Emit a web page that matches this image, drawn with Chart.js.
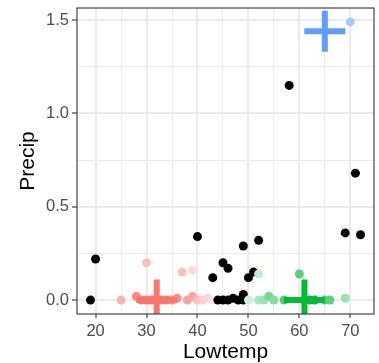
<!DOCTYPE html>
<html>
<head>
<meta charset="utf-8">
<script src="https://cdn.jsdelivr.net/npm/chart.js@4/dist/chart.umd.min.js"></script>
<style>
  html, body { margin: 0; padding: 0; background: #fff; }
</style>
</head>
<body>
<canvas id="chart" width="379" height="363"></canvas>
<script>
// tick values
const xTicks = [20, 25, 30, 35, 40, 45, 50, 55, 60, 65, 70];
const yTicks = [0, 0.25, 0.5, 0.75, 1, 1.25, 1.5];

// black cluster
const blackLow = [19, 20, 40, 43, 45, 46, 49, 50, 51, 52, 58, 69, 71, 72, 44, 45, 46, 47, 48, 49, 49];
const blackPrecip = [0, 0.22, 0.34, 0.12, 0.20, 0.17, 0.29, 0.12, 0.15, 0.32, 1.15, 0.36, 0.68, 0.35, 0, 0, 0, 0.01, 0, 0.03, 0];

// red cluster (weight = membership)
const redLow = [25, 28, 29, 30, 31, 32, 33, 34, 35, 36, 38, 39, 40, 41, 42, 43, 30, 37, 39];
const redPrecip = [0, 0.02, 0, 0, 0, 0, 0, 0, 0, 0.01, 0, 0.02, 0, 0, 0.01, 0, 0.20, 0.15, 0.16];
const redWeight = [0.55, 0.85, 0.95, 1, 1, 1, 1, 0.95, 0.8, 0.8, 0.65, 0.65, 0.45, 0.35, 0.3, 0.2, 0.45, 0.45, 0.25];

// green cluster
const greenLow = [50, 52, 52, 53, 54, 55, 57, 60, 61, 62, 63, 65, 66, 69];
const greenPrecip = [0, 0.14, 0, 0, 0.02, 0, 0, 0.14, 0, 0, 0, 0, 0, 0.01];
const greenWeight = [0.2, 0.25, 0.35, 0.4, 0.55, 0.5, 0.7, 0.65, 1, 1, 1, 0.7, 0.65, 0.4];

// blue cluster
const blueLow = [70];
const bluePrecip = [1.49];
const blueWeight = [0.55];

// cluster centres
const centreNames = ["red", "green", "blue"];
const centreLow = [32, 61, 65];
const centrePrecip = [0, 0, 1.44];

const palette = { red: "#F8766D", green: "#00BA38", blue: "#619CFF" };

function mix(hex, w) {
  const n = parseInt(hex.slice(1), 16);
  const r = (n >> 16) & 255, g = (n >> 8) & 255, b = n & 255;
  const f = c => Math.round(255 + (c - 255) * w);
  return "rgb(" + f(r) + "," + f(g) + "," + f(b) + ")";
}

function pts(xs, ys) {
  return xs.map((x, i) => ({ x: x, y: ys[i] }));
}

// ggplot-style panel border on top of everything
const panelBorder = {
  id: "panelBorder",
  afterDraw(chart) {
    const { ctx, chartArea: a } = chart;
    ctx.save();
    ctx.strokeStyle = "#333333";
    ctx.lineWidth = 1.1;
    ctx.strokeRect(a.left, a.top, a.right - a.left, a.bottom - a.top);
    ctx.restore();
  }
};

function noPad(s) {
  s.paddingLeft = 0;
  s.paddingRight = 0;
  s.paddingTop = 0;
  s.paddingBottom = 0;
}

const isMajorX = v => v % 10 === 0;
const isMajorY = v => Math.abs(v * 2 - Math.round(v * 2)) < 1e-6;
const font = "'Liberation Sans', Arial, sans-serif";

new Chart(document.getElementById("chart"), {
  type: "scatter",
  data: {
    datasets: [
      {
        data: pts(redLow, redPrecip),
        backgroundColor: redWeight.map(w => mix(palette.red, w)),
        pointRadius: 4.5,
        borderWidth: 0,
        order: 4
      },
      {
        data: pts(blackLow, blackPrecip),
        backgroundColor: "#000000",
        pointRadius: 4.5,
        borderWidth: 0,
        order: 3
      },
      {
        data: pts(greenLow, greenPrecip),
        backgroundColor: greenWeight.map(w => mix(palette.green, w)),
        pointRadius: 4.5,
        borderWidth: 0,
        order: 2
      },
      {
        data: pts(blueLow, bluePrecip),
        backgroundColor: blueWeight.map(w => mix(palette.blue, w)),
        pointRadius: 4.5,
        borderWidth: 0,
        order: 1
      },
      {
        data: pts(centreLow, centrePrecip),
        pointStyle: "cross",
        pointRadius: 20.5,
        borderWidth: 6,
        borderColor: centreNames.map(n => palette[n]),
        backgroundColor: centreNames.map(n => palette[n]),
        clip: 0,
        order: 0
      }
    ]
  },
  options: {
    responsive: false,
    animation: false,
    events: [],
    layout: { autoPadding: false, padding: { top: 8, right: 5, left: 0, bottom: 0 } },
    plugins: {
      legend: { display: false },
      tooltip: { enabled: false }
    },
    scales: {
      x: {
        type: "linear",
        min: 16.35,
        max: 74.65,
        afterBuildTicks: s => { s.ticks = xTicks.map(v => ({ value: v })); },
        afterFit: s => { s.height = 49; noPad(s); },
        border: { display: false },
        grid: {
          color: "#EBEBEB",
          lineWidth: c => (isMajorX(c.tick.value) ? 2 : 1),
          tickLength: 4,
          tickWidth: 1.1,
          tickColor: c => (isMajorX(c.tick.value) ? "#333333" : "rgba(0,0,0,0)")
        },
        ticks: {
          autoSkip: false,
          maxRotation: 0,
          padding: 4,
          color: "#4D4D4D",
          font: { family: font, size: 16.5 },
          callback: v => (isMajorX(v) ? String(v) : "")
        },
        title: {
          display: true,
          text: "Lowtemp",
          color: "#000000",
          padding: { top: 0, bottom: 0 },
          font: { family: font, size: 21, lineHeight: 1.05 }
        }
      },
      y: {
        type: "linear",
        min: -0.0745,
        max: 1.5645,
        afterBuildTicks: s => { s.ticks = yTicks.map(v => ({ value: v })); },
        afterFit: s => { s.width = 77; noPad(s); },
        border: { display: false },
        grid: {
          color: "#EBEBEB",
          lineWidth: c => (isMajorY(c.tick.value) ? 2 : 1),
          tickLength: 5,
          tickWidth: 1.1,
          tickColor: c => (isMajorY(c.tick.value) ? "#333333" : "rgba(0,0,0,0)")
        },
        ticks: {
          autoSkip: false,
          padding: 3,
          color: "#4D4D4D",
          font: { family: font, size: 16.5 },
          callback: v => (isMajorY(v) ? v.toFixed(1) : "")
        },
        title: {
          display: true,
          text: "Precip",
          color: "#000000",
          padding: { top: 17, bottom: 0 },
          font: { family: font, size: 21, lineHeight: 1.05 }
        }
      }
    }
  },
  plugins: [panelBorder]
});
</script>
</body>
</html>
